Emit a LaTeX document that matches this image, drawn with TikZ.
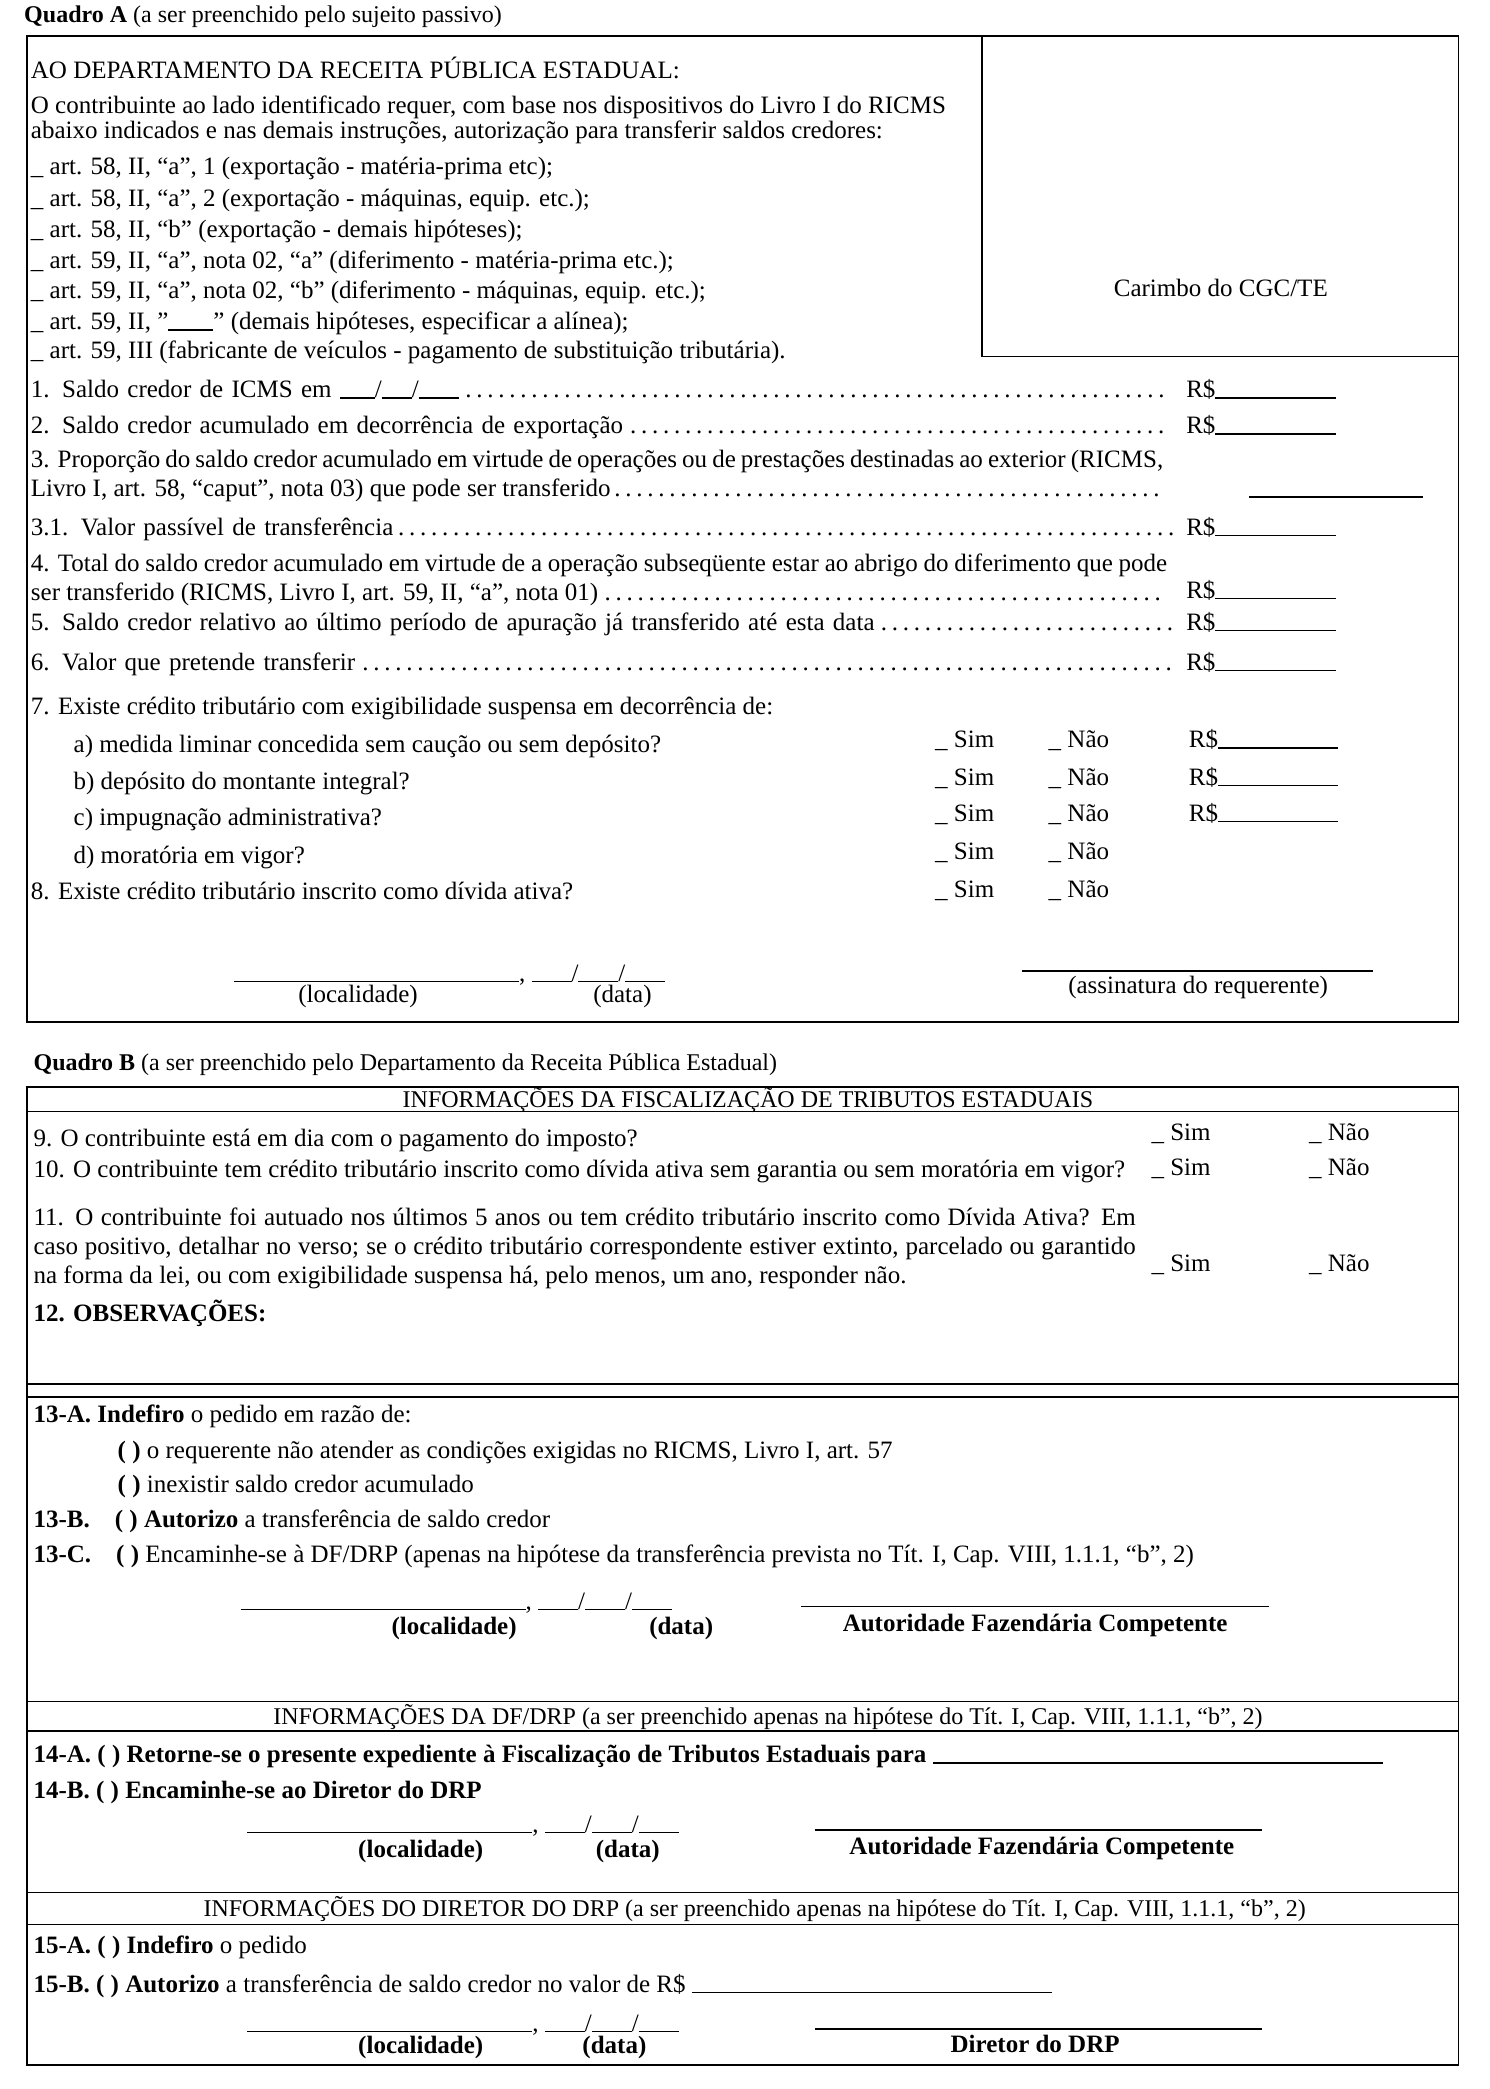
\documentclass[tikz,border=0pt]{standalone}
\usepackage{fontspec}
\setmainfont{Liberation Serif}
\newcounter{tn}
\newcommand\T[4][]{\stepcounter{tn}\node[txt,#1] (t\arabic{tn}) at (#2,#3) {#4};}
\newcommand\ul[1]{\rule[-1pt]{#1}{1.3pt}}
\begin{document}
\begin{tikzpicture}[x=1.3354pt,y=-1.3354pt,
  txt/.style={anchor=mid west,inner sep=0pt,font=\fontsize{25}{29}\selectfont},
  ml/.style={anchor=west},
  hdr/.style={font=\fontsize{24}{28}\selectfont},
  ttl/.style={anchor=base,inner sep=0pt,font=\fontsize{24}{28}\selectfont},
  ctr/.style={anchor=mid},
  frame/.style={draw,line width=1.6pt},
  rule/.style={draw,line width=1.3pt}]
\useasboundingbox (0,0) rectangle (1115,1564);
% ---------- Quadro A
\T[hdr]{18}{15}{\textbf{Quadro A} (a ser preenchido pelo sujeito passivo)}
\draw[frame] (20,27) rectangle (1092,765);
\draw[frame] (735,27) rectangle (1092,267);
\T[ctr]{914}{220}{Carimbo do CGC/TE}
\T{23}{57}{AO DEPARTAMENTO DA RECEITA PÚBLICA ESTADUAL:}
\T{23}{83}{O contribuinte ao lado identificado requer, com base nos dispositivos do Livro I do RICMS}
\T{23}{102}{abaixo indicados e nas demais instruções, autorização para transferir saldos credores:}
\T{23}{129}{\_ art. 58, II, “a”, 1 (exportação - matéria-prima etc);}
\T{23}{153}{\_ art. 58, II, “a”, 2 (exportação - máquinas, equip. etc.);}
\T{23}{176}{\_ art. 58, II, “b” (exportação - demais hipóteses);}
\T{23}{199}{\_ art. 59, II, “a”, nota 02, “a” (diferimento - matéria-prima etc.);}
\T{23}{222}{\_ art. 59, II, “a”, nota 02, “b” (diferimento - máquinas, equip. etc.);}
\T{23}{245}{\_ art. 59, II, "\ul{45pt}" (demais hipóteses, especificar a alínea);}
\T{23}{267}{\_ art. 59, III (fabricante de veículos - pagamento de substituição tributária).}
\T[text width=1140pt]{23}{296}{1. Saldo credor de ICMS em \ul{35pt}/\ul{30pt}/\ul{40pt}\dotfill}
\T{888}{296}{R\$\ul{120pt}}
\T[text width=1140pt]{23}{323}{2. Saldo credor acumulado em decorrência de exportação\dotfill}
\T{888}{323}{R\$\ul{120pt}}
\T[ml,text width=1132pt,align=justify]{23}{356}{3. Proporção do saldo credor acumulado em virtude de operações ou de prestações destinadas ao exterior (RICMS, Livro I, art. 58, “caput”, nota 03) que pode ser transferido\dotfill}
\draw[rule] (935,372) -- (1065,372);
\T[text width=1148pt]{23}{399}{3.1. Valor passível de transferência\dotfill}
\T{888}{399}{R\$\ul{120pt}}
\T[ml,text width=1136pt,align=justify]{23}{434}{4. Total do saldo credor acumulado em virtude de a operação subseqüente estar ao abrigo do diferimento que pode ser transferido (RICMS, Livro I, art. 59, II, “a”, nota 01)\dotfill}
\T{888}{446}{R\$\ul{120pt}}
\T[text width=1148pt]{23}{470}{5. Saldo credor relativo ao último período de apuração já transferido até esta data\dotfill}
\T{888}{470}{R\$\ul{120pt}}
\T[text width=1148pt]{23}{500}{6. Valor que pretende transferir\dotfill}
\T{888}{500}{R\$\ul{120pt}}
\T{23}{533}{7. Existe crédito tributário com exigibilidade suspensa em decorrência de:}
\T{55}{562}{a) medida liminar concedida sem caução ou sem depósito?}
\T{55}{589}{b) depósito do montante integral?}
\T{55}{616}{c) impugnação administrativa?}
\T{55}{645}{d) moratória em vigor?}
\T{23}{672}{8. Existe crédito tributário inscrito como dívida ativa?}
\foreach \yy/\k in {558/a,586/b,613/c,642/d,670/e}{
  \node[txt] (s\k) at (700,\yy) {\_ Sim};
  \node[txt] (n\k) at (785,\yy) {\_ Não};}
\foreach \yy/\k in {558/a,586/b,613/c}{\node[txt] (r\k) at (890,\yy) {R\$\ul{120pt}};}
\T{175}{733}{\ul{285pt}, \ul{40pt}/\ul{40pt}/\ul{40pt}}
\T[ctr]{268}{749}{(localidade)}
\T[ctr]{466}{749}{(data)}
\draw[rule] (765,727) -- (1028,727);
\T[ctr]{897}{742}{(assinatura do requerente)}
% ---------- Quadro B
\T[hdr]{25}{800}{\textbf{Quadro B} (a ser preenchido pelo Departamento da Receita Pública Estadual)}
\draw[frame] (20,814) rectangle (1092,1546);
\draw[rule] (20,832) -- (1092,832);
\draw[frame] (20,1036) -- (1092,1036);
\draw[rule] (20,1046) -- (1092,1046);
\draw[rule] (20,1274) -- (1092,1274);
\draw[rule] (20,1296) -- (1092,1296);
\draw[rule] (20,1417) -- (1092,1417);
\draw[rule] (20,1441) -- (1092,1441);
\node[ttl] (h1) at (560,829) {INFORMAÇÕES DA FISCALIZAÇÃO DE TRIBUTOS ESTADUAIS};
\T{25}{857}{9. O contribuinte está em dia com o pagamento do imposto?}
\T{25}{880}{10. O contribuinte tem crédito tributário inscrito como dívida ativa sem garantia ou sem moratória em vigor?}
\T[ml,text width=1102pt,align=justify]{25}{935}{11. O contribuinte foi autuado nos últimos 5 anos ou tem crédito tributário inscrito como Dívida Ativa? Em caso positivo, detalhar no verso; se o crédito tributário correspondente estiver extinto, parcelado ou garantido na forma da lei, ou com exigibilidade suspensa há, pelo menos, um ano, responder não.}
\foreach \yy/\k in {852/f,878/g,950/h}{
  \node[txt] (s\k) at (862,\yy) {\_ Sim};
  \node[txt] (n\k) at (980,\yy) {\_ Não};}
\T{25}{988}{\textbf{12. OBSERVAÇÕES:}}
\T{25}{1063}{\textbf{13-A. Indefiro} o pedido em razão de:}
\T{88}{1090}{\textbf{( ) }o requerente não atender as condições exigidas no RICMS, Livro I, art. 57}
\T{88}{1116}{\textbf{( ) }inexistir saldo credor acumulado}
\T{25}{1142}{\textbf{13-B.\quad ( ) Autorizo} a transferência de saldo credor}
\T{25}{1168}{\textbf{13-C.\quad ( ) }Encaminhe-se à DF/DRP (apenas na hipótese da transferência prevista no Tít. I, Cap. VIII, 1.1.1, “b”, 2)}
\T{180}{1203}{\ul{285pt}, \ul{40pt}/\ul{40pt}/\ul{40pt}}
\T[ctr]{340}{1222}{\textbf{(localidade)}}
\T[ctr]{510}{1222}{\textbf{(data)}}
\draw[rule] (600,1203) -- (950,1203);
\T[ctr]{775}{1220}{\textbf{Autoridade Fazendária Competente}}
\node[ttl] (h2) at (575,1291) {INFORMAÇÕES DA DF/DRP (a ser preenchido apenas na hipótese do Tít. I, Cap. VIII, 1.1.1, “b”, 2)};
\T{25}{1318}{\textbf{14-A. ( ) Retorne-se o presente expediente à Fiscalização de Tributos Estaduais para} \ul{450pt}}
\T{25}{1345}{\textbf{14-B. ( ) Encaminhe-se ao Diretor do DRP}}
\T{185}{1370}{\ul{285pt}, \ul{40pt}/\ul{40pt}/\ul{40pt}}
\T[ctr]{315}{1389}{\textbf{(localidade)}}
\T[ctr]{470}{1389}{\textbf{(data)}}
\draw[rule] (610,1370) -- (945,1370);
\T[ctr]{780}{1387}{\textbf{Autoridade Fazendária Competente}}
\node[ttl] (h3) at (565,1435) {INFORMAÇÕES DO DIRETOR DO DRP (a ser preenchido apenas na hipótese do Tít. I, Cap. VIII, 1.1.1, “b”, 2)};
\T{25}{1461}{\textbf{15-A. ( ) Indefiro} o pedido}
\T{25}{1490}{\textbf{15-B. ( ) Autorizo} a transferência de saldo credor no valor de R\$ \ul{360pt}}
\T{185}{1519}{\ul{285pt}, \ul{40pt}/\ul{40pt}/\ul{40pt}}
\T[ctr]{315}{1536}{\textbf{(localidade)}}
\T[ctr]{460}{1536}{\textbf{(data)}}
\draw[rule] (610,1519) -- (945,1519);
\T[ctr]{775}{1535}{\textbf{Diretor do DRP}}
\end{tikzpicture}
\end{document}
